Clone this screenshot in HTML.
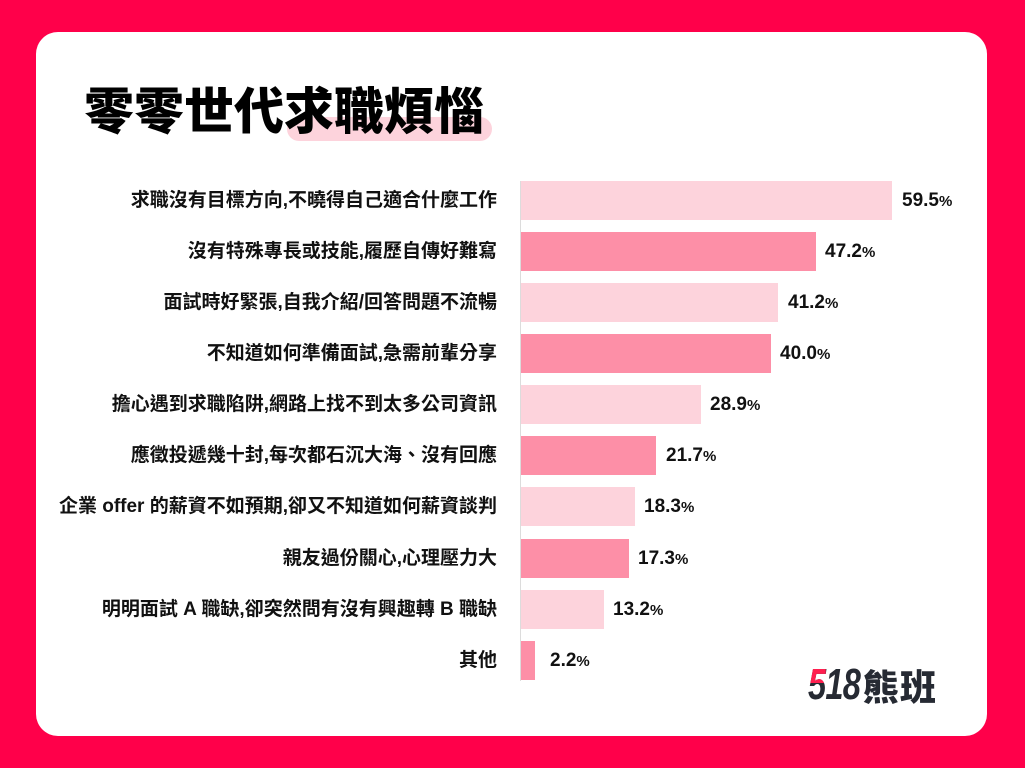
<!DOCTYPE html>
<html><head><meta charset="utf-8">
<style>
*{margin:0;padding:0;box-sizing:border-box}
html,body{width:1025px;height:768px;overflow:hidden}
body{background:#ff004a;position:relative;font-family:"Liberation Sans","Noto Sans CJK TC",sans-serif}
.card{position:absolute;left:36px;top:32px;width:951px;height:704px;background:#fff;border-radius:22px}
.pill{position:absolute;left:287px;top:117px;width:205px;height:24px;background:#fdd3dc;border-radius:12px}
.title{position:absolute;left:84px;top:78px;font-family:"Noto Sans CJK TC","Noto Sans CJK SC",sans-serif;font-weight:900;font-size:50px;line-height:60px;color:#000;white-space:nowrap;letter-spacing:0px}
.axis{position:absolute;left:520px;top:181px;width:1px;height:500px;background:#dcdcdc}
.bar{position:absolute;left:521px;height:39px}
.l{background:#fdd3dc}.d{background:#fd8fa7}
.lab{position:absolute;right:528px;height:39px;line-height:39px;font-family:"Liberation Sans","Noto Sans CJK TC",sans-serif;font-weight:700;font-size:19px;color:#111;white-space:nowrap;text-align:right}
.val{position:absolute;height:39px;line-height:40px;font-family:"Liberation Sans",sans-serif;font-weight:700;font-size:19px;color:#111;white-space:nowrap}
.val small{font-size:15px;font-weight:700}
.logo{position:absolute;left:808px;top:662px;height:46px;width:140px;white-space:nowrap;color:#262a33}
.num{position:absolute;left:0;top:-2px;font-family:"Liberation Sans",sans-serif;font-weight:700;font-style:italic;font-size:44px;line-height:50px;transform:scaleX(0.74);transform-origin:0 0;letter-spacing:-1px}
.redtop{position:absolute;left:0;top:-2px;height:23px;overflow:hidden;color:#ff1f4f;font-family:"Liberation Sans",sans-serif;font-weight:700;font-style:italic;font-size:44px;line-height:50px;transform:scaleX(0.74);transform-origin:0 0}
.cjk{position:absolute;left:55px;top:2px;font-family:"Noto Sans CJK TC",sans-serif;font-weight:900;font-size:36px;line-height:42px;letter-spacing:1px}
</style></head><body>
<div class="card"></div>
<div class="pill"></div>
<div class="title">零零世代求職煩惱</div>
<div class="axis"></div>

<div class="bar l" style="top:181px;width:371px"></div>
<div class="lab" style="top:181px">求職沒有目標方向,不曉得自己適合什麼工作</div>
<div class="val" style="top:181px;left:902px">59.5<small>%</small></div>

<div class="bar d" style="top:232px;width:295px"></div>
<div class="lab" style="top:232px">沒有特殊專長或技能,履歷自傳好難寫</div>
<div class="val" style="top:232px;left:825px">47.2<small>%</small></div>

<div class="bar l" style="top:283px;width:257px"></div>
<div class="lab" style="top:283px">面試時好緊張,自我介紹/回答問題不流暢</div>
<div class="val" style="top:283px;left:788px">41.2<small>%</small></div>

<div class="bar d" style="top:334px;width:250px"></div>
<div class="lab" style="top:334px">不知道如何準備面試,急需前輩分享</div>
<div class="val" style="top:334px;left:780px">40.0<small>%</small></div>

<div class="bar l" style="top:385px;width:180px"></div>
<div class="lab" style="top:385px">擔心遇到求職陷阱,網路上找不到太多公司資訊</div>
<div class="val" style="top:385px;left:710px">28.9<small>%</small></div>

<div class="bar d" style="top:436px;width:135px"></div>
<div class="lab" style="top:436px">應徵投遞幾十封,每次都石沉大海、沒有回應</div>
<div class="val" style="top:436px;left:666px">21.7<small>%</small></div>

<div class="bar l" style="top:487px;width:114px"></div>
<div class="lab" style="top:487px">企業 offer 的薪資不如預期,卻又不知道如何薪資談判</div>
<div class="val" style="top:487px;left:644px">18.3<small>%</small></div>

<div class="bar d" style="top:539px;width:108px"></div>
<div class="lab" style="top:539px">親友過份關心,心理壓力大</div>
<div class="val" style="top:539px;left:638px">17.3<small>%</small></div>

<div class="bar l" style="top:590px;width:83px"></div>
<div class="lab" style="top:590px">明明面試 A 職缺,卻突然問有沒有興趣轉 B 職缺</div>
<div class="val" style="top:590px;left:613px">13.2<small>%</small></div>

<div class="bar d" style="top:641px;width:14px"></div>
<div class="lab" style="top:641px">其他</div>
<div class="val" style="top:641px;left:550px">2.2<small>%</small></div>

<div class="logo">
  <div class="num">518</div>
  <div class="redtop">5</div>
  <div class="cjk">熊班</div>
</div>
</body></html>
